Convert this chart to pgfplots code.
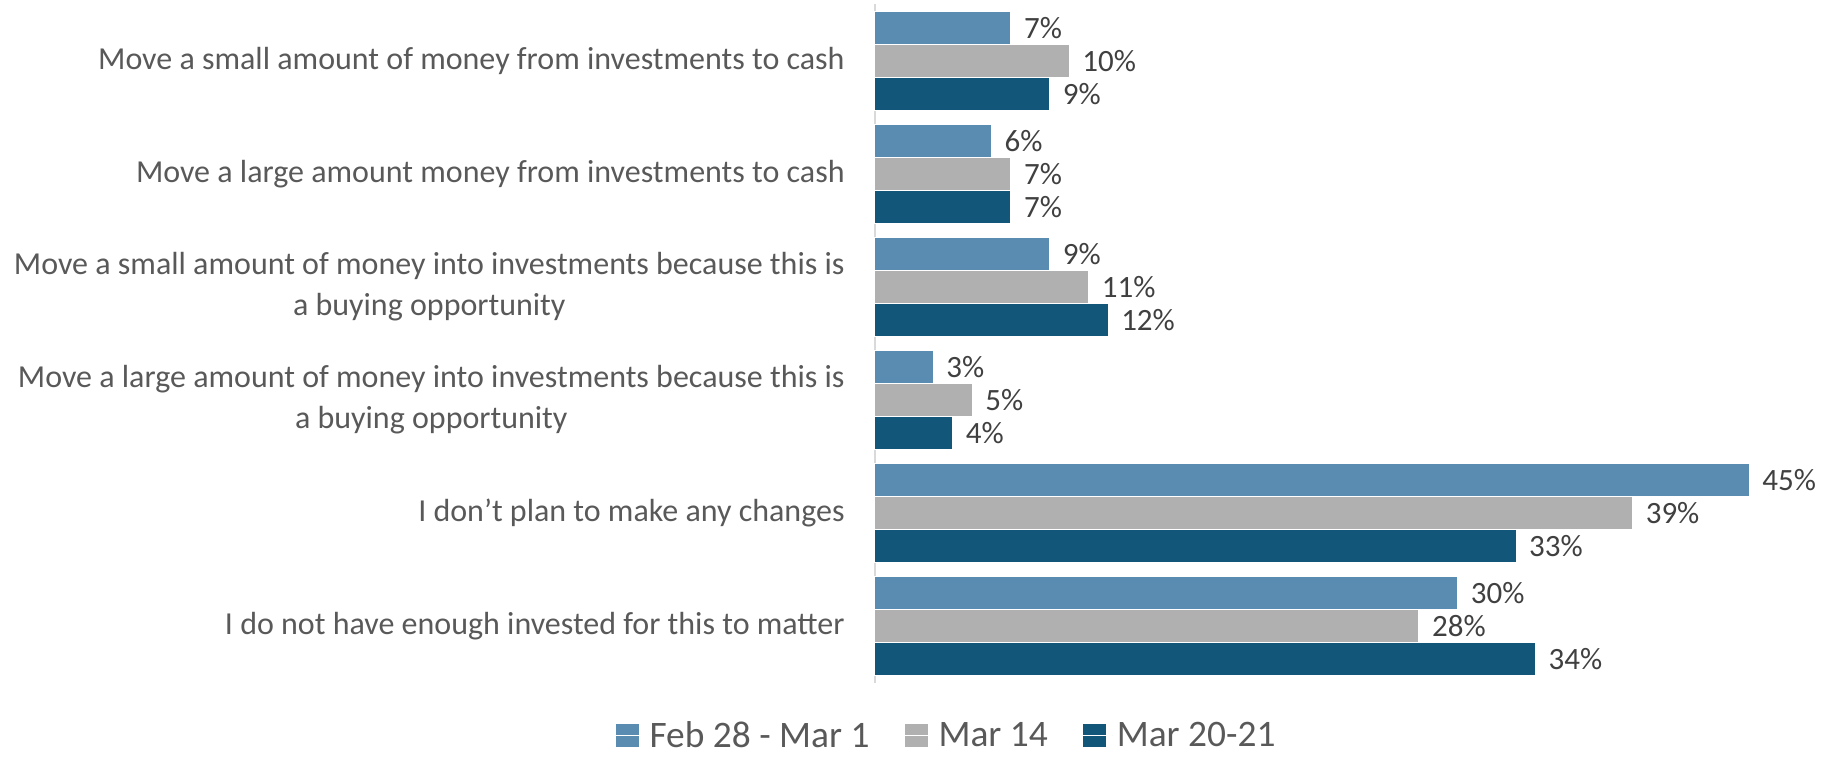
\documentclass[border=0pt]{standalone}
\usepackage{fontspec}
\setmainfont{Carlito}
\usepackage{pgfplots}
\pgfplotsset{compat=1.18}
\definecolor{cA}{HTML}{5A8BB0}
\definecolor{cB}{HTML}{B0B0B0}
\definecolor{cC}{HTML}{12577A}
\definecolor{txt}{HTML}{595959}
\definecolor{lbl}{HTML}{404040}
\definecolor{axl}{HTML}{D9D9D9}
\begin{document}
\begin{tikzpicture}
\begin{axis}[name=ax,
  scale only axis, width=474pt, height=339.5pt,
  xbar=0pt, bar width=16.5pt,
  xmin=0, xmax=48.8, ymin=-0.5, ymax=5.5,
  axis x line=none, axis y line*=left,
  y axis line style={axl, line width=1pt, -},
  ytick={0,...,5}, major tick length=0pt, ytick style={draw=none},
  yticklabels={
    {I do not have enough invested for this to matter},
    {I don’t plan to make any changes},
    {Move a large amount of money into investments because this is\\a buying opportunity},
    {Move a small amount of money into investments because this is\\a buying opportunity},
    {Move a large amount money from investments to cash},
    {Move a small amount of money from investments to cash}},
  yticklabel style={align=center, font=\fontsize{16}{20.5}\selectfont, text=txt, inner sep=0pt, xshift=-15pt},
  /pgf/number format/assume math mode=true,
  nodes near coords={\pgfmathprintnumber{\pgfplotspointmeta}\%},
  nodes near coords style={font=\fontsize{15.5}{18}\selectfont, text=lbl, xshift=3pt},
  legend columns=3, reverse legend,
  legend cell align=left,
  legend style={at={(0.076,-0.078)}, anchor=center, draw=none, fill=none, inner sep=0pt,
    font=\fontsize{18.7}{21}\selectfont, text=txt,
    /tikz/every even column/.append style={column sep=15pt}},
  legend image code/.code={\fill[#1] (0pt,-6pt) rectangle (12pt,6pt); \path (0pt,0pt) -- (15pt,0pt);},
  clip=false,
]
\addplot[fill=cC, draw=white, line width=0.5pt] coordinates {(34,0) (33,1) (4,2) (12,3) (7,4) (9,5)};
\addplot[fill=cB, draw=white, line width=0.5pt] coordinates {(28,0) (39,1) (5,2) (11,3) (7,4) (10,5)};
\addplot[fill=cA, draw=white, line width=0.5pt] coordinates {(30,0) (45,1) (3,2) (9,3) (6,4) (7,5)};
\legend{Mar 20-21, Mar 14, Feb 28 - Mar 1}
\end{axis}
\path (ax.south west) ++(-437.5pt,-37pt) rectangle ++(911.5pt,378.5pt);
\end{tikzpicture}
\end{document}
